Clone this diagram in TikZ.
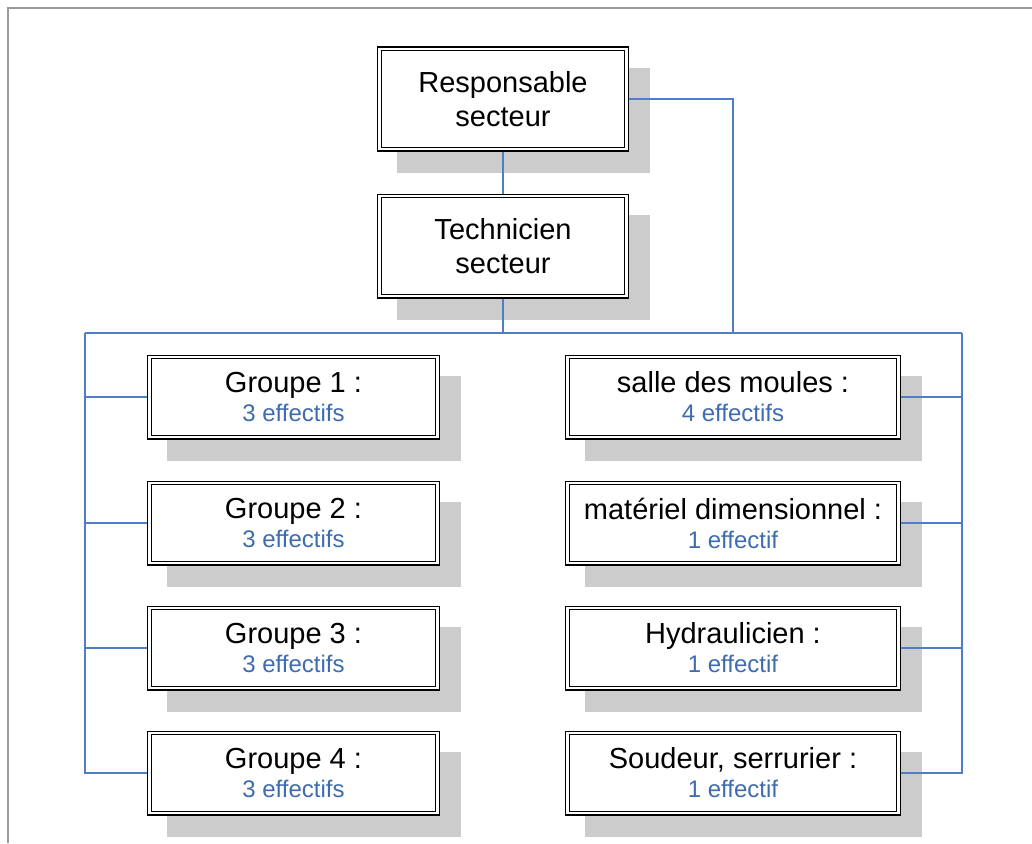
\documentclass[tikz,border=0pt]{standalone}
\usepackage{fontspec}
\setmainfont{Liberation Sans}
\usetikzlibrary{calc}

\definecolor{linkblue}{HTML}{4F7EC6}
\definecolor{countblue}{HTML}{3F6CB0}
\definecolor{shadegray}{HTML}{CCCCCC}
\definecolor{framegray}{HTML}{999999}

\pgfdeclarelayer{shade}
\pgfdeclarelayer{links}
\pgfsetlayers{shade,links,main}

\tikzset{
  post/.style={draw=black, double=white, double distance=2.4pt, line width=1.2pt,
    fill=white, outer sep=0pt, inner sep=0pt, align=center},
  headpost/.style={post, minimum width=247.2pt, minimum height=100.2pt,
    font=\fontsize{29}{34}\selectfont},
  teampost/.style={post, minimum width=288.2pt, minimum height=80.2pt,
    font=\fontsize{29}{29}\selectfont},
  sidepost/.style={post, minimum width=331.2pt, minimum height=80.2pt,
    font=\fontsize{29}{29}\selectfont},
  link/.style={draw=linkblue, line width=1.6pt},
}
\newcommand\headcount[1]{{\fontsize{24}{29}\selectfont\color{countblue}#1}}

\begin{document}
\begin{tikzpicture}[x=1pt, y=-1pt]
  \useasboundingbox (0,0) rectangle (1032,843);

  % page frame
  \draw[framegray, line width=2pt] (8,843) -- (8,8) -- (1032,8);

  % management
  \node[headpost] (resp) at (503,99) {Responsable\\secteur};
  \node[headpost] (tech) at (503,246) {Technicien\\secteur};

  % production groups
  \node[teampost] (g1) at (293.5,397) {Groupe 1 :\\\headcount{3 effectifs}};
  \node[teampost] (g2) at (293.5,523) {Groupe 2 :\\\headcount{3 effectifs}};
  \node[teampost] (g3) at (293.5,648) {Groupe 3 :\\\headcount{3 effectifs}};
  \node[teampost] (g4) at (293.5,773) {Groupe 4 :\\\headcount{3 effectifs}};

  % support staff
  \node[sidepost] (s1) at (733,397) {salle des moules :\\\headcount{4 effectifs}};
  \node[sidepost] (s2) at (733,523) {matériel dimensionnel :\\\headcount{1 effectif}};
  \node[sidepost] (s3) at (733,648) {Hydraulicien :\\\headcount{1 effectif}};
  \node[sidepost] (s4) at (733,773) {Soudeur, serrurier :\\\headcount{1 effectif}};

  % drop shadows
  \begin{pgfonlayer}{shade}
    \foreach \n in {resp,tech,g1,g2,g3,g4,s1,s2,s3,s4}
      \fill[shadegray] ($(\n.north west)+(17.6,18.6)$) rectangle ($(\n.south east)+(23.4,23.4)$);
  \end{pgfonlayer}

  % connectors
  \coordinate (busL) at (85,333);
  \coordinate (busR) at (962,333);
  \coordinate (busM) at (733,333);
  \begin{pgfonlayer}{links}
    \draw[link] (resp) -- (tech);
    \draw[link] (resp.east) -| (busM);
    \draw[link] (tech.south) -- (tech.south |- busL);
    \draw[link] (busL) -- (busR);
    \foreach \n in {g1,g2,g3,g4}
      \draw[link] (busL) |- (\n.west);
    \foreach \n in {s1,s2,s3,s4}
      \draw[link] (busR) |- (\n.east);
  \end{pgfonlayer}
\end{tikzpicture}
\end{document}
